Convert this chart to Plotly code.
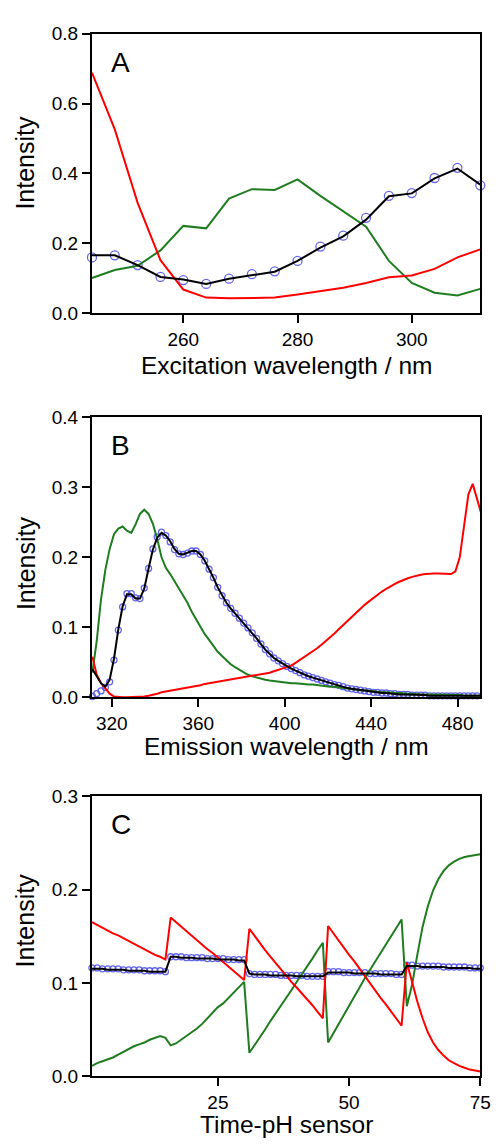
import plotly.graph_objects as go

# ---------------- Panel A: excitation ----------------
A_x = [244, 248, 252, 256, 260, 264, 268, 272, 276, 280, 284, 288, 292, 296, 300, 304, 308, 312]
A_circ = [0.160, 0.166, 0.138, 0.104, 0.095, 0.084, 0.099, 0.112, 0.120, 0.150, 0.191, 0.222, 0.273, 0.336, 0.344, 0.387, 0.416, 0.366]
A_fit = [0.166, 0.166, 0.138, 0.104, 0.097, 0.084, 0.099, 0.110, 0.119, 0.150, 0.188, 0.220, 0.268, 0.335, 0.343, 0.386, 0.414, 0.368]
A_red = [0.688, 0.526, 0.316, 0.152, 0.068, 0.045, 0.043, 0.043, 0.045, 0.054, 0.064, 0.073, 0.087, 0.103, 0.108, 0.127, 0.160, 0.183]
A_green = [0.101, 0.124, 0.136, 0.180, 0.250, 0.243, 0.328, 0.355, 0.353, 0.383, 0.336, 0.293, 0.248, 0.150, 0.087, 0.059, 0.051, 0.070]

# ---------------- Panel B: emission (311..491 nm, 2 nm) ----------------
B_x = list(range(311, 492, 2))
B_green = [0.035, 0.080, 0.140, 0.182, 0.212, 0.233, 0.241, 0.244, 0.238, 0.235,
           0.247, 0.262, 0.268, 0.262, 0.248, 0.226, 0.200, 0.185, 0.176, 0.166,
           0.157, 0.147, 0.135, 0.122, 0.111, 0.099, 0.090, 0.082, 0.073, 0.065,
           0.059, 0.053, 0.047, 0.043, 0.039, 0.035, 0.032, 0.030, 0.028, 0.027,
           0.025, 0.024, 0.023, 0.022, 0.021, 0.021, 0.020, 0.020, 0.019, 0.019,
           0.018, 0.018, 0.017, 0.016, 0.016, 0.015, 0.015, 0.014, 0.013, 0.012,
           0.012, 0.011, 0.010, 0.010, 0.009, 0.008, 0.008, 0.007, 0.007, 0.006,
           0.006, 0.006, 0.005, 0.005, 0.005, 0.004, 0.004, 0.004, 0.004, 0.003,
           0.003, 0.003, 0.003, 0.003, 0.003, 0.003, 0.002, 0.002, 0.002, 0.002,
           0.002]
B_red = [0.058, 0.032, 0.020, 0.012, 0.005, 0.001, 0.000, 0.000, 0.000, 0.000,
         0.000, 0.000, 0.001, 0.002, 0.003, 0.005, 0.007, 0.008, 0.009, 0.010,
         0.011, 0.012, 0.013, 0.014, 0.016, 0.017, 0.019, 0.020, 0.022, 0.023,
         0.024, 0.025, 0.026, 0.027, 0.027, 0.028, 0.029, 0.030, 0.031, 0.032,
         0.033, 0.035, 0.037, 0.039, 0.041, 0.043, 0.045, 0.049, 0.053, 0.057,
         0.061, 0.065, 0.070, 0.075, 0.080, 0.085, 0.091, 0.097, 0.103, 0.109,
         0.115, 0.121, 0.127, 0.132, 0.137, 0.142, 0.147, 0.151, 0.155, 0.159,
         0.162, 0.165, 0.168, 0.170, 0.172, 0.174, 0.175, 0.176, 0.177, 0.177,
         0.177, 0.177, 0.176, 0.176, 0.180, 0.200, 0.245, 0.290, 0.305, 0.283,
         0.262]
B_fit = [0.040, 0.030, 0.020, 0.015, 0.025, 0.055, 0.097, 0.130, 0.147, 0.147,
         0.141, 0.141, 0.155, 0.184, 0.211, 0.228, 0.235, 0.231, 0.223, 0.212,
         0.205, 0.204, 0.206, 0.209, 0.209, 0.204, 0.195, 0.184, 0.171, 0.157,
         0.145, 0.135, 0.127, 0.120, 0.113, 0.106, 0.099, 0.092, 0.084, 0.076,
         0.068, 0.062, 0.056, 0.052, 0.048, 0.044, 0.041, 0.038, 0.035, 0.032,
         0.030, 0.028, 0.026, 0.024, 0.022, 0.020, 0.018, 0.017, 0.015, 0.013,
         0.012, 0.011, 0.010, 0.009, 0.008, 0.007, 0.007, 0.006, 0.006, 0.005,
         0.005, 0.004, 0.004, 0.004, 0.003, 0.003, 0.003, 0.003, 0.002, 0.002,
         0.002, 0.002, 0.002, 0.002, 0.002, 0.002, 0.002, 0.002, 0.002, 0.002,
         0.002]
B_circ = [0.001, 0.005, 0.009, 0.014, 0.022, 0.053, 0.096, 0.129, 0.148, 0.148,
          0.142, 0.141, 0.156, 0.184, 0.212, 0.229, 0.236, 0.231, 0.222, 0.211,
          0.205, 0.204, 0.206, 0.209, 0.209, 0.204, 0.195, 0.183, 0.171, 0.157,
          0.145, 0.135, 0.127, 0.120, 0.113, 0.106, 0.099, 0.092, 0.084, 0.076,
          0.068, 0.062, 0.056, 0.052, 0.048, 0.044, 0.041, 0.038, 0.035, 0.032,
          0.030, 0.028, 0.026, 0.024, 0.022, 0.020, 0.018, 0.017, 0.015, 0.013,
          0.012, 0.011, 0.010, 0.009, 0.008, 0.007, 0.007, 0.006, 0.006, 0.005,
          0.005, 0.004, 0.004, 0.004, 0.003, 0.003, 0.003, 0.003, 0.002, 0.002,
          0.002, 0.002, 0.002, 0.002, 0.002, 0.002, 0.002, 0.002, 0.002, 0.002,
          0.002]

# ---------------- Panel C: time-pH sensor (1..75) ----------------
C_x = list(range(1, 76))
C_red = [0.165, 0.162, 0.159, 0.156, 0.153, 0.151, 0.148, 0.145, 0.142, 0.139, 0.136, 0.133, 0.130, 0.128, 0.125,
         0.170, 0.165, 0.160, 0.155, 0.151, 0.146, 0.141, 0.136, 0.132, 0.127, 0.122, 0.117, 0.113, 0.108, 0.103,
         0.158, 0.150, 0.142, 0.135, 0.128, 0.121, 0.114, 0.108, 0.101, 0.095, 0.089, 0.082, 0.076, 0.069, 0.062,
         0.161, 0.153, 0.146, 0.138, 0.130, 0.123, 0.115, 0.107, 0.100, 0.092, 0.084, 0.077, 0.069, 0.062, 0.054,
         0.122, 0.100, 0.080, 0.062, 0.047, 0.036, 0.028, 0.022, 0.017, 0.014, 0.011, 0.009, 0.007, 0.006, 0.005]
C_green = [0.011, 0.014, 0.016, 0.018, 0.020, 0.023, 0.026, 0.029, 0.032, 0.034, 0.036, 0.039, 0.041, 0.043, 0.041,
           0.033, 0.035, 0.039, 0.043, 0.047, 0.051, 0.056, 0.062, 0.068, 0.074, 0.078, 0.084, 0.090, 0.095, 0.101,
           0.025, 0.033, 0.042, 0.050, 0.059, 0.067, 0.076, 0.084, 0.092, 0.101, 0.109, 0.118, 0.126, 0.135, 0.143,
           0.036, 0.046, 0.056, 0.066, 0.076, 0.086, 0.096, 0.105, 0.114, 0.123, 0.132, 0.141, 0.150, 0.159, 0.168,
           0.075, 0.098, 0.130, 0.160, 0.182, 0.199, 0.211, 0.220, 0.226, 0.230, 0.233, 0.235, 0.236, 0.237, 0.238]
C_circ = [0.116, 0.116, 0.115, 0.115, 0.115, 0.115, 0.114, 0.114, 0.114, 0.114, 0.113, 0.113, 0.113, 0.113, 0.112,
          0.128, 0.128, 0.128, 0.127, 0.127, 0.127, 0.127, 0.126, 0.126, 0.126, 0.126, 0.125, 0.125, 0.125, 0.125,
          0.110, 0.109, 0.109, 0.109, 0.109, 0.109, 0.108, 0.108, 0.108, 0.108, 0.108, 0.107, 0.107, 0.107, 0.107,
          0.112, 0.112, 0.112, 0.111, 0.111, 0.111, 0.111, 0.111, 0.110, 0.110, 0.110, 0.110, 0.110, 0.109, 0.109,
          0.119, 0.119, 0.118, 0.118, 0.118, 0.118, 0.118, 0.117, 0.117, 0.117, 0.117, 0.117, 0.116, 0.116, 0.116]
C_fit = [0.115, 0.115, 0.115, 0.114, 0.114, 0.114, 0.114, 0.113, 0.113, 0.113, 0.113, 0.112, 0.112, 0.112, 0.112,
         0.128, 0.128, 0.127, 0.127, 0.127, 0.126, 0.126, 0.126, 0.126, 0.125, 0.125, 0.125, 0.125, 0.124, 0.124,
         0.110, 0.109, 0.109, 0.109, 0.108, 0.108, 0.108, 0.108, 0.108, 0.107, 0.107, 0.107, 0.107, 0.107, 0.107,
         0.111, 0.111, 0.111, 0.111, 0.111, 0.110, 0.110, 0.110, 0.110, 0.110, 0.109, 0.109, 0.109, 0.109, 0.109,
         0.118, 0.118, 0.118, 0.117, 0.117, 0.117, 0.117, 0.117, 0.116, 0.116, 0.116, 0.116, 0.116, 0.115, 0.115]

# ---------------- styling ----------------
W, H = 504, 1147
FONT = "Liberation Sans, Arial, sans-serif"
RED = "#ff0000"
GREEN = "#1f7d1f"
BLUE = "rgba(85,85,235,0.9)"
BLACK = "#000000"


def px(x):
    return x / W


def py(y):
    return 1 - y / H


X_DOM = [px(94), px(491)]
panels = [
    ("", 24, 309, A_x, A_red, A_green, A_circ, A_fit, 9, [244, 312], 20, [0, 0.8], 0.2, "A", "Excitation wavelength / nm", 362, 155),
    ("2", 415, 700, B_x, B_red, B_green, B_circ, B_fit, 6, [310.8, 490.5], 40, [0, 0.4], 0.1, "B", "Emission wavelength / nm", 750, 563),
    ("3", 801, 1086, C_x, C_red, C_green, C_circ, C_fit, 6, [1, 75], 25, [0, 0.3], 0.1, "C", "Time-pH sensor", 1135, 927),
]

fig = go.Figure()
annotations = []
layout = dict(
    width=W, height=H, autosize=False,
    margin=dict(l=0, r=0, t=0, b=0),
    paper_bgcolor="white", plot_bgcolor="white",
    showlegend=False,
    font=dict(family=FONT, color="black"),
)

for (sfx, top, bot, xd, red, green, circ, fit, msz, xr, dx, yr, dy,
     letter, xtitle, xt_y, yt_y) in panels:
    xa = "x" + sfx
    ya = "y" + sfx
    fig.add_trace(go.Scatter(x=xd, y=circ, mode="markers", xaxis=xa, yaxis=ya,
                             marker=dict(symbol="circle-open", size=msz, color=BLUE,
                                         line=dict(width=1.3, color=BLUE)),
                             cliponaxis=False))
    fig.add_trace(go.Scatter(x=xd, y=green, mode="lines", xaxis=xa, yaxis=ya,
                             line=dict(color=GREEN, width=2)))
    fig.add_trace(go.Scatter(x=xd, y=red, mode="lines", xaxis=xa, yaxis=ya,
                             line=dict(color=RED, width=2)))
    fig.add_trace(go.Scatter(x=xd, y=fit, mode="lines", xaxis=xa, yaxis=ya,
                             line=dict(color=BLACK, width=2)))

    common = dict(showline=True, linewidth=2, linecolor="black", mirror=True,
                  ticks="outside", ticklen=8, tickwidth=1.5, tickcolor="black",
                  showgrid=False, zeroline=False, ticklabeloverflow="allow",
                  tickfont=dict(family=FONT, size=19, color="black"))
    layout["xaxis" + sfx] = dict(common, domain=X_DOM, range=xr, dtick=dx, tick0=0,
                                 anchor=ya)
    layout["yaxis" + sfx] = dict(common, domain=[py(bot), py(top)], range=yr, dtick=dy,
                                 tick0=0, tickformat=".1f", anchor=xa)

    annotations.append(dict(text=letter, xref="paper", yref="paper", x=px(111),
                            y=py(top + 29), xanchor="left", yanchor="middle",
                            showarrow=False, font=dict(family=FONT, size=28, color="black")))
    annotations.append(dict(text=xtitle, xref="paper", yref="paper", x=px(292.5),
                            y=py(xt_y), xanchor="center", yanchor="middle",
                            showarrow=False, font=dict(family=FONT, size=24.5, color="black")))
    annotations.append(dict(text="Intensity", xref="paper", yref="paper", x=px(26),
                            y=py(yt_y), xanchor="center", yanchor="middle", textangle=-90,
                            showarrow=False, font=dict(family=FONT, size=25, color="black")))

layout["annotations"] = annotations
fig.update_layout(**layout)
fig.write_html("out.html")
